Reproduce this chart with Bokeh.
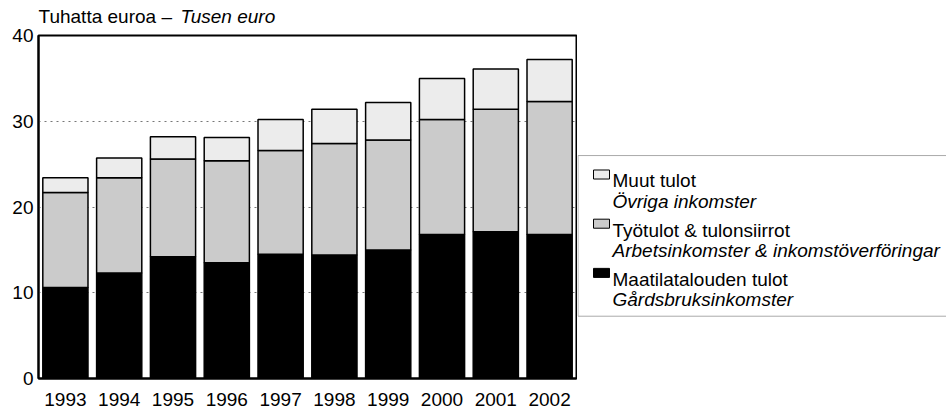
from bokeh.plotting import figure
from bokeh.models import ColumnDataSource, Range1d, FixedTicker
from bokeh.layouts import row, column
from bokeh.core.properties import value
from bokeh.embed import file_html
from bokeh.resources import INLINE

# ---- data (thousand euro) ----
years = ["1993", "1994", "1995", "1996", "1997", "1998", "1999", "2000", "2001", "2002"]
maatila = [10.6, 12.3, 14.2, 13.5, 14.5, 14.4, 15.0, 16.8, 17.1, 16.8]
tyotulot = [11.1, 11.1, 11.4, 11.9, 12.1, 13.0, 12.8, 13.4, 14.3, 15.5]
muut = [1.7, 2.3, 2.6, 2.7, 3.6, 4.0, 4.4, 4.8, 4.7, 4.9]
y_ticks = [0, 10, 20, 30, 40]

series_keys = ["maatila", "tyo", "muut"]
colors = ["#000000", "#cbcbcb", "#ececec"]
legend_main = ["Muut tulot", "Työtulot & tulonsiirrot", "Maatilatalouden tulot"]
legend_sub = ["Övriga inkomster", "Arbetsinkomster & inkomstöverföringar", "Gårdsbruksinkomster"]
legend_colors = ["#ececec", "#cbcbcb", "#000000"]
title_normal = "Tuhatta euroa – "
title_italic = "Tusen euro"

FONT = "Liberation Sans"
W, H = 946, 408
TH = 28                      # title strip height
FL, FT, FW, FH = 38, 35 - TH, 538, 347
MW = FL + FW + 1             # main figure width
MH = H - TH
LW = W - MW                  # legend panel width
NX = len(years)


def blank(w, h):
    f = figure(width=w, height=h, x_range=Range1d(0, w), y_range=Range1d(h, 0),
               output_backend="svg", toolbar_location=None, x_axis_type=None,
               y_axis_type=None, min_border=0, min_border_left=0, min_border_right=0,
               min_border_top=0, min_border_bottom=0)
    f.outline_line_color = None
    f.grid.grid_line_color = None
    return f


def txt(f, x, y, s, italic=False):
    f.text(x=[x], y=[y], text=[s], text_font=value(FONT), text_font_size="19px",
           text_font_style="italic" if italic else "normal",
           text_baseline="alphabetic", text_color="black")


# ---- title strip ----
t = blank(W, TH)
txt(t, 38, 16, title_normal)
txt(t, 180, 16, title_italic, italic=True)

# ---- main chart ----
xpos = [i + 0.5 for i in range(NX)]
source = ColumnDataSource(dict(x=xpos, year=years, maatila=maatila, tyo=tyotulot, muut=muut))

p = figure(width=MW, height=MH, x_range=Range1d(0, NX), y_range=Range1d(0, 40),
           output_backend="svg", toolbar_location=None,
           min_border_left=FL, min_border_right=1, min_border_top=FT,
           min_border_bottom=MH - FT - FH)

p.vbar_stack(series_keys, x="x", width=0.84, source=source,
             fill_color=colors, line_color="black", line_width=1.5)

p.outline_line_color = "black"
p.outline_line_width = 2
p.xgrid.grid_line_color = None
p.ygrid.grid_line_color = "#777777"
p.ygrid.grid_line_dash = "dotted"
p.ygrid.grid_line_width = 1

p.yaxis.ticker = FixedTicker(ticks=y_ticks)
p.yaxis.major_tick_out = 0
p.yaxis.major_tick_in = 0
p.yaxis.minor_tick_line_color = None
p.yaxis.axis_line_color = "black"
p.yaxis.axis_line_width = 2
p.yaxis.major_label_standoff = 5

p.xaxis.ticker = FixedTicker(ticks=xpos)
p.xaxis.major_label_overrides = {x: y for x, y in zip(xpos, years)}
p.xaxis.major_tick_line_color = None
p.xaxis.minor_tick_line_color = None
p.xaxis.axis_line_color = "black"
p.xaxis.axis_line_width = 2
p.xaxis.major_label_standoff = 8

for ax in (p.xaxis[0], p.yaxis[0]):
    ax.major_label_text_font = FONT
    ax.major_label_text_font_size = "19px"
    ax.major_label_text_color = "black"

# ---- legend panel ----
q = blank(LW, MH)
q.quad(left=[0.5], right=[LW + 20], top=[161 - TH], bottom=[339 - TH], fill_color=None,
       line_color="#aaaaaa", line_width=1)
base = 189.0 - TH
step = 54.5
for i in range(3):
    b = base + i * step
    q.quad(left=[16], right=[32], top=[b - 12], bottom=[b - 2],
           fill_color=legend_colors[i], line_color="black", line_width=1)
    txt(q, 35, b, legend_main[i])
    txt(q, 35, b + 23, legend_sub[i], italic=True)

layout = column(t, row(p, q, spacing=0), spacing=0)
open("out.html", "w").write(file_html(layout, INLINE))
